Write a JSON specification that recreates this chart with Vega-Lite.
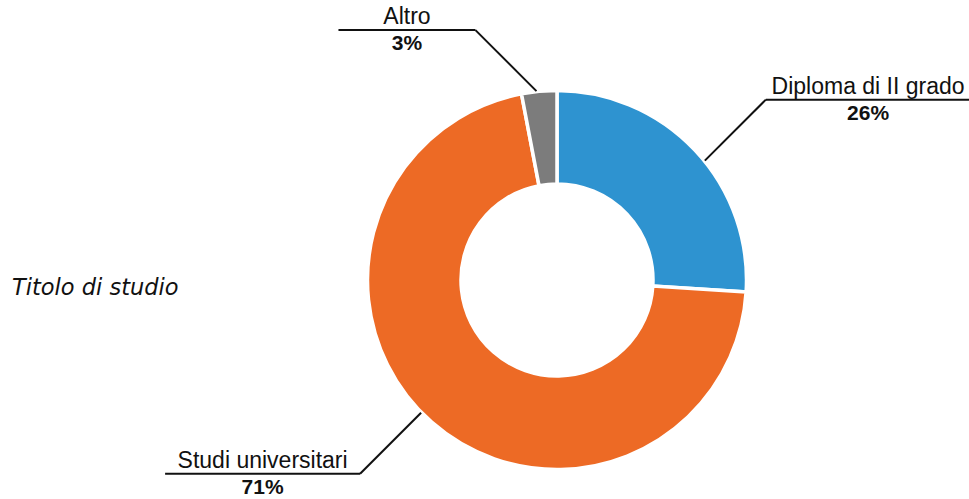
{
  "$schema": "https://vega.github.io/schema/vega-lite/v6.json",
  "width": 969,
  "height": 499,
  "autosize": "none",
  "padding": 0,
  "background": "white",
  "config": {"view": {"stroke": null}},
  "layer": [
    {
      "data": {
        "values": [
          {"titolo": "Diploma di II grado", "pct": 26},
          {"titolo": "Studi universitari", "pct": 71},
          {"titolo": "Altro", "pct": 3}
        ]
      },
      "transform": [
        {"window": [{"op": "row_number", "as": "idx"}]},
        {"window": [{"op": "sum", "field": "pct", "as": "cum"}], "sort": [{"field": "idx"}], "frame": [null, 0]},
        {"joinaggregate": [{"op": "sum", "field": "pct", "as": "tot"}]},
        {"calculate": "2*PI*(datum.cum - datum.pct/2)/datum.tot", "as": "a0"},
        {"calculate": "datum.a0 + 0.075*sin(2*datum.a0)", "as": "a"},
        {"calculate": "190*sin(datum.a)", "as": "sx"},
        {"calculate": "190*cos(datum.a)", "as": "sy"},
        {"calculate": "sin(datum.a) >= 0 ? 1 : -1", "as": "hx"},
        {"calculate": "cos(datum.a) >= 0 ? 1 : -1", "as": "vy"},
        {"calculate": "datum.sx + 61*datum.hx", "as": "ex"},
        {"calculate": "datum.sy + 61*datum.vy", "as": "ey"},
        {"calculate": "max(137, length(datum.titolo)*9.5 + 24)", "as": "len"},
        {"calculate": "datum.ex + datum.hx*datum.len", "as": "fx"},
        {"calculate": "datum.ex + datum.hx*datum.len/2", "as": "cx"},
        {"calculate": "datum.pct + '%'", "as": "pctLabel"}
      ],
      "layer": [
        {
          "mark": {"type": "arc", "outerRadius": 189.5, "innerRadius": 96, "stroke": "white", "strokeWidth": 3.5},
          "encoding": {
            "x": {"datum": 0, "type": "quantitative", "scale": {"domain": [-557, 412], "nice": false, "zero": false}, "axis": null},
            "y": {"datum": 0, "type": "quantitative", "scale": {"domain": [-219, 280], "nice": false, "zero": false}, "axis": null},
            "theta": {"field": "pct", "type": "quantitative", "stack": true},
            "order": {"field": "idx", "type": "quantitative"},
            "color": {
              "field": "titolo",
              "type": "nominal",
              "scale": {"domain": ["Diploma di II grado", "Studi universitari", "Altro"], "range": ["#2e93d0", "#ed6a25", "#7c7c7c"]},
              "legend": null
            }
          }
        },
        {
          "mark": {"type": "rule", "color": "#111111", "strokeWidth": 2},
          "encoding": {
            "x": {"field": "sx", "type": "quantitative"},
            "y": {"field": "sy", "type": "quantitative"},
            "x2": {"field": "ex"},
            "y2": {"field": "ey"}
          }
        },
        {
          "mark": {"type": "rule", "color": "#111111", "strokeWidth": 2},
          "encoding": {
            "x": {"field": "ex", "type": "quantitative"},
            "x2": {"field": "fx"},
            "y": {"field": "ey", "type": "quantitative"}
          }
        },
        {
          "mark": {"type": "text", "font": "Liberation Sans", "fontSize": 23, "baseline": "alphabetic", "align": "center", "dy": -6, "color": "#111111"},
          "encoding": {
            "x": {"field": "cx", "type": "quantitative"},
            "y": {"field": "ey", "type": "quantitative"},
            "text": {"field": "titolo"}
          }
        },
        {
          "mark": {"type": "text", "font": "Liberation Sans", "fontSize": 21, "fontWeight": "bold", "baseline": "middle", "align": "center", "dy": 14, "color": "#111111"},
          "encoding": {
            "x": {"field": "cx", "type": "quantitative"},
            "y": {"field": "ey", "type": "quantitative"},
            "text": {"field": "pctLabel"}
          }
        }
      ]
    },
    {
      "data": {"values": [{"titoloAsse": "Titolo di studio"}]},
      "mark": {"type": "text", "font": "DejaVu Sans", "fontStyle": "italic", "fontSize": 22.5, "align": "left", "baseline": "middle", "color": "#111111"},
      "encoding": {
        "x": {"datum": -545, "type": "quantitative"},
        "y": {"datum": -8, "type": "quantitative"},
        "text": {"field": "titoloAsse"}
      }
    }
  ]
}
